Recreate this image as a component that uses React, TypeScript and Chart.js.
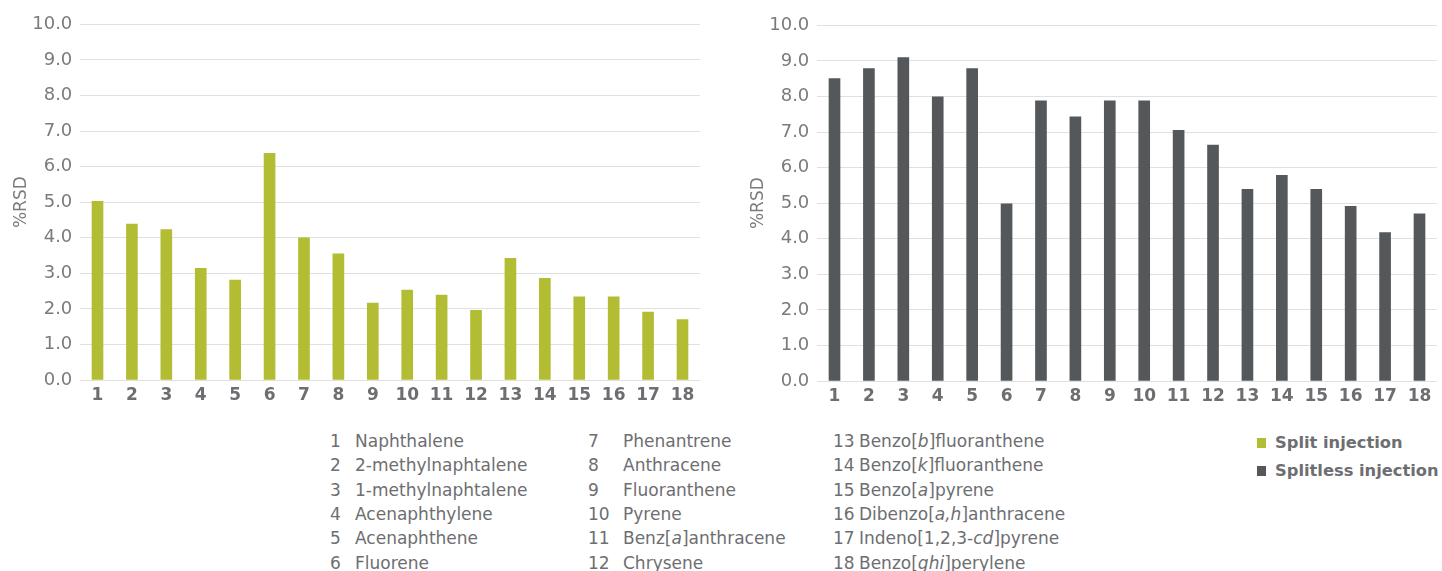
import React, { useEffect, useRef } from "react";
import { Chart, registerables } from "chart.js";

Chart.register(...registerables);

// ---- data ----
const compoundNumbers = ["1", "2", "3", "4", "5", "6", "7", "8", "9", "10", "11", "12", "13", "14", "15", "16", "17", "18"];
const splitRSD = [5.02, 4.38, 4.23, 3.14, 2.81, 6.37, 4.0, 3.55, 2.16, 2.53, 2.39, 1.96, 3.42, 2.86, 2.34, 2.34, 1.91, 1.7];
const splitlessRSD = [8.5, 8.78, 9.09, 7.99, 8.78, 4.98, 7.88, 7.43, 7.88, 7.88, 7.05, 6.63, 5.39, 5.78, 5.39, 4.91, 4.17, 4.7];
const yAxisMin = 0;
const yAxisMax = 10;
const yAxisStep = 1;
const yAxisTitle = "%RSD";
// names: text between underscores is italic
const compoundNames = [
  "Naphthalene",
  "2-methylnaphtalene",
  "1-methylnaphtalene",
  "Acenaphthylene",
  "Acenaphthene",
  "Fluorene",
  "Phenantrene",
  "Anthracene",
  "Fluoranthene",
  "Pyrene",
  "Benz[_a_]anthracene",
  "Chrysene",
  "Benzo[_b_]fluoranthene",
  "Benzo[_k_]fluoranthene",
  "Benzo[_a_]pyrene",
  "Dibenzo[_a,h_]anthracene",
  "Indeno[1,2,3-_cd_]pyrene",
  "Benzo[_ghi_]perylene",
];
const seriesNames = ["Split injection", "Splitless injection"];

// ---- styles ----
const GREEN = "#b2bd34";
const DARK = "#54585a";
const TEXT = "#6d6e71";
const TICK = "#7a7b7e";
const GRID = "#e0e0e0";
const FONT = "'DejaVu Sans', 'Liberation Sans', sans-serif";

type PanelProps = { values: number[]; color: string; left: number; top: number };

function BarPanel({ values, color, left, top }: PanelProps) {
  const ref = useRef<HTMLCanvasElement>(null);
  useEffect(() => {
    const chart = new Chart(ref.current as HTMLCanvasElement, {
      type: "bar",
      data: {
        labels: compoundNumbers,
        datasets: [{ data: values, backgroundColor: color, barThickness: 11, borderWidth: 0 }],
      },
      options: {
        animation: false,
        responsive: false,
        events: [],
        layout: { padding: { top: 24.3, right: 5.3, left: 0, bottom: 0 } },
        plugins: { legend: { display: false }, tooltip: { enabled: false } },
        scales: {
          x: {
            grid: { display: false, drawTicks: false },
            border: { display: false },
            ticks: {
              font: { family: FONT, size: 17, weight: "bold" },
              color: TEXT,
              padding: 5,
              maxRotation: 0,
              autoSkip: false,
            },
            afterFit: (s: any) => {
              s.height = 35;
            },
          },
          y: {
            min: yAxisMin,
            max: yAxisMax,
            ticks: {
              stepSize: yAxisStep,
              callback: (v: any) => Number(v).toFixed(1),
              font: { family: FONT, size: 18 },
              color: TICK,
              padding: 8,
            },
            grid: { color: GRID, drawTicks: false, lineWidth: 1 },
            border: { display: false },
            title: {
              display: true,
              text: yAxisTitle,
              font: { family: FONT, size: 17 },
              color: TICK,
              padding: { top: 11, bottom: 0 },
            },
            afterFit: (s: any) => {
              s.width = 80.3;
            },
          },
        },
      },
    } as any);
    return () => chart.destroy();
  }, []);
  return <canvas ref={ref} width={705} height={415} style={{ position: "absolute", left, top }} />;
}

function NameText({ text }: { text: string }) {
  const parts = text.split("_");
  return (
    <>
      {parts.map((p, i) => (i % 2 === 1 ? <i key={i}>{p}</i> : <span key={i}>{p}</span>))}
    </>
  );
}

const colNumberX = [330, 588, 833];
const colNameX = [355, 623, 859];

export default function App() {
  const rowH = 24.4;
  const firstCenter = 440.7;
  const lineH = 20;
  return (
    <div
      style={{
        position: "absolute",
        left: 0,
        top: 0,
        width: 1442,
        height: 571,
        overflow: "hidden",
        background: "#fff",
        fontFamily: FONT,
      }}
    >
      <BarPanel values={splitRSD} color={GREEN} left={0} top={0} />
      <BarPanel values={splitlessRSD} color={DARK} left={737} top={1} />
      {compoundNames.map((name, i) => {
        const col = Math.floor(i / 6);
        const row = i % 6;
        const cy = firstCenter + row * rowH;
        return (
          <React.Fragment key={i}>
            <div
              style={{
                position: "absolute",
                left: colNumberX[col],
                top: cy - lineH / 2,
                lineHeight: lineH + "px",
                fontSize: 17,
                color: TEXT,
                whiteSpace: "nowrap",
              }}
            >
              {compoundNumbers[i]}
            </div>
            <div
              style={{
                position: "absolute",
                left: colNameX[col],
                top: cy - lineH / 2,
                lineHeight: lineH + "px",
                fontSize: 17,
                color: TEXT,
                whiteSpace: "nowrap",
              }}
            >
              <NameText text={name} />
            </div>
          </React.Fragment>
        );
      })}
      {seriesNames.map((s, i) => {
        const cy = 443 + i * 28;
        return (
          <React.Fragment key={s}>
            <div
              style={{
                position: "absolute",
                left: 1256.7,
                top: cy - 5,
                width: 9.5,
                height: 10,
                background: i === 0 ? GREEN : DARK,
              }}
            />
            <div
              style={{
                position: "absolute",
                left: 1275,
                top: cy - lineH / 2,
                lineHeight: lineH + "px",
                fontSize: 16.3,
                fontWeight: "bold",
                color: TEXT,
                whiteSpace: "nowrap",
              }}
            >
              {s}
            </div>
          </React.Fragment>
        );
      })}
    </div>
  );
}
